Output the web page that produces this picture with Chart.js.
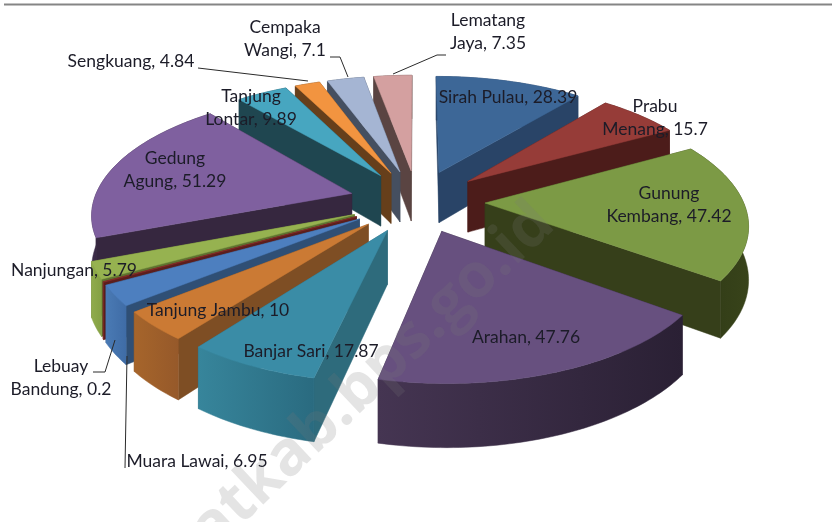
<!DOCTYPE html>
<html>
<head>
<meta charset="utf-8">
<title>Exploded 3D pie</title>
<style>
html, body { margin: 0; padding: 0; background: #fff; overflow: hidden; }
canvas { display: block; filter: blur(0.4px); }
</style>
<script src="https://cdn.jsdelivr.net/npm/chart.js@4"></script>
</head>
<body>
<canvas id="pie" width="832" height="522"></canvas>
<script>
// Values, clockwise from 12 o'clock
const categories = ['Sirah Pulau', 'Prabu Menang', 'Gunung Kembang', 'Arahan', 'Banjar Sari', 'Tanjung Jambu',
    'Muara Lawai', 'Lebuay Bandung', 'Nanjungan', 'Gedung Agung', 'Tanjung Lontar', 'Sengkuang',
    'Cempaka Wangi', 'Lematang Jaya'];
const values = [28.39, 15.7, 47.42, 47.76, 17.87, 10, 6.95, 0.2, 5.79, 51.29, 9.89, 4.84, 7.1, 7.35];

// Slice colours: top face, radial side, rim (left and right end of the rim gradient)
const topColors = ['#3d6797', '#963c38', '#7c9a45', '#67507f', '#3a8ca6', '#cb7a34', '#4d7fbf', '#8a2e2a',
    '#96b250', '#7f609f', '#47a6c0', '#f29440', '#a5b5d3', '#d4a0a0'];
const sideColors = ['#294467', '#4c1c1a', '#363f1a', '#2e2238', '#2e6b7c', '#7e4e24', '#2f4f75', '#5c1e1c',
    '#5f7330', '#36273f', '#1f4650', '#663f1b', '#454f60', '#5a4442'];
const rimLeft = ['#294467', '#4c1c1a', '#2f3a16', '#453552', '#37859b', '#a6652b', '#4a7ab4', '#7c2a26',
    '#90ab4c', '#3c2c48', '#1f4650', '#663f1b', '#454f60', '#5a4442'];
const rimRight = ['#294467', '#4c1c1a', '#38431a', '#2a2034', '#2a6b80', '#96592a', '#3f6ca6', '#7c2a26',
    '#84a044', '#36273f', '#1f4650', '#663f1b', '#454f60', '#5a4442'];

// Projection of the flat pie onto the page
const PIE_RADIUS = 258;
const EXPLODE = 68;
const DEPTH = 52;
const FLATTEN = 0.46;
const VIEW_DIST = 1700;

// Label layout: text lines, centre x, middle y
const labelLayout = [
    [['Sirah Pulau, 28.39'], 508, 97],
    [['Prabu', 'Menang, 15.7'], 655, 106],
    [['Gunung', 'Kembang, 47.42'], 669, 193],
    [['Arahan, 47.76'], 526, 337],
    [['Banjar Sari, 17.87'], 311, 351],
    [['Tanjung Jambu, 10'], 218, 310],
    [['Muara Lawai, 6.95'], 197, 461],
    [['Lebuay', 'Bandung, 0.2'], 61, 366],
    [['Nanjungan, 5.79'], 74, 270],
    [['Gedung', 'Agung, 51.29'], 175, 158],
    [['Tanjung', 'Lontar, 9.89'], 251, 96],
    [['Sengkuang, 4.84'], 131, 61],
    [['Cempaka', 'Wangi, 7.1'], 285, 27],
    [['Lematang', 'Jaya, 7.35'], 488, 20]
];
const leaderLines = [
    [[198, 68], [308, 81]],
    [[330, 57], [340, 57], [348, 77]],
    [[446, 55], [437, 55], [393, 74]],
    [[93, 372], [105, 372], [115, 340]],
    [[125, 468], [127, 356]]
];

function polygon(ctx, pts, fill) {
    ctx.beginPath();
    pts.forEach(function(p, i) {
        if (i === 0) ctx.moveTo(p[0], p[1]);
        else ctx.lineTo(p[0], p[1]);
    });
    ctx.closePath();
    ctx.fillStyle = fill;
    ctx.fill();
    ctx.strokeStyle = fill;
    ctx.lineWidth = 0.5;
    ctx.stroke();
}

const pie3d = {
    id: 'pie3d',
    // the default flat arcs are replaced by the projected ones below
    beforeDatasetDraw: function() {
        return false;
    },
    afterDatasetsDraw: function(chart) {
        const ctx = chart.ctx;
        const arcs = chart.getDatasetMeta(0).data;

        function project(a, gx, gy, z) {
            const s = 1 / (1 - gy / VIEW_DIST);
            return [a.x + gx * s, a.y + gy * FLATTEN * s + z * s];
        }

        // furthest slices first
        const order = arcs.map(function(arc, i) {
            const p = arc.getProps(['x', 'y', 'startAngle', 'endAngle', 'outerRadius'], true);
            return { i: i, p: p, mid: (p.startAngle + p.endAngle) / 2 };
        }).sort(function(a, b) {
            return Math.sin(a.mid) - Math.sin(b.mid);
        });

        order.forEach(function(o) {
            const p = o.p;
            const scale = PIE_RADIUS / p.outerRadius;
            const ox = Math.cos(o.mid) * EXPLODE;
            const oy = Math.sin(o.mid) * EXPLODE;
            const steps = Math.max(2, Math.ceil((p.endAngle - p.startAngle) / 0.02));
            const rimTop = [];
            const rimBottom = [];
            for (let k = 0; k <= steps; k++) {
                const a = p.startAngle + (p.endAngle - p.startAngle) * k / steps;
                const gx = ox + Math.cos(a) * p.outerRadius * scale;
                const gy = oy + Math.sin(a) * p.outerRadius * scale;
                rimTop.push(project(p, gx, gy, 0));
                rimBottom.push(project(p, gx, gy, DEPTH));
            }
            const apexTop = project(p, ox, oy, 0);
            const apexBottom = project(p, ox, oy, DEPTH);
            const last = rimTop.length - 1;

            const faces = [
                { pts: [apexTop, rimTop[0], rimBottom[0], apexBottom], fill: sideColors[o.i] },
                { pts: [apexTop, rimTop[last], rimBottom[last], apexBottom], fill: sideColors[o.i] }
            ];
            const xs = rimTop.map(function(q) { return q[0]; });
            const grad = ctx.createLinearGradient(Math.min.apply(null, xs), 0, Math.max.apply(null, xs), 0);
            grad.addColorStop(0, rimLeft[o.i]);
            grad.addColorStop(1, rimRight[o.i]);
            faces.push({ pts: rimTop.concat(rimBottom.slice().reverse()), fill: grad });

            faces.forEach(function(f) {
                f.y = f.pts.reduce(function(sum, q) { return sum + q[1]; }, 0) / f.pts.length;
            });
            faces.sort(function(a, b) { return a.y - b.y; });
            faces.forEach(function(f) { polygon(ctx, f.pts, f.fill); });

            polygon(ctx, [apexTop].concat(rimTop), topColors[o.i]);
        });
    },
    afterDraw: function(chart) {
        const ctx = chart.ctx;
        ctx.save();

        // frame line at the top
        ctx.strokeStyle = '#858585';
        ctx.lineWidth = 2;
        ctx.beginPath();
        ctx.moveTo(4, 4.5);
        ctx.lineTo(832, 4.5);
        ctx.stroke();

        // leader lines
        ctx.strokeStyle = '#2a2a2a';
        ctx.lineWidth = 1;
        leaderLines.forEach(function(line) {
            ctx.beginPath();
            line.forEach(function(q, i) {
                if (i === 0) ctx.moveTo(q[0], q[1]);
                else ctx.lineTo(q[0], q[1]);
            });
            ctx.stroke();
        });

        // data labels
        ctx.fillStyle = '#1c1c28';
        ctx.font = '17.5px Lato';
        ctx.textAlign = 'center';
        ctx.textBaseline = 'middle';
        labelLayout.forEach(function(l) {
            l[0].forEach(function(line, i) {
                ctx.fillText(line, l[1], l[2] + i * 23);
            });
        });

        // watermark
        ctx.translate(213, 552);
        ctx.rotate(-Math.PI / 4.15);
        ctx.fillStyle = 'rgba(120, 120, 120, 0.2)';
        ctx.font = 'bold 62px "Open Sans"';
        ctx.textAlign = 'left';
        ctx.textBaseline = 'alphabetic';
        ctx.fillText('atkab.bps.go.id', 0, 0);
        ctx.restore();
    }
};

document.addEventListener('DOMContentLoaded', function() {
    const pieCtx = document.getElementById('pie').getContext('2d');
    const pieChart = new Chart(pieCtx, {
        type: 'pie',
        data: {
            labels: categories,
            datasets: [{
                data: values,
                backgroundColor: topColors,
                borderWidth: 0
            }]
        },
        options: {
            responsive: false,
            animation: false,
            layout: {
                padding: { left: 2, bottom: 120 }
            },
            plugins: {
                legend: {
                    display: false
                },
                tooltip: {
                    enabled: false
                }
            }
        },
        plugins: [pie3d]
    });
});
</script>
</body>
</html>
